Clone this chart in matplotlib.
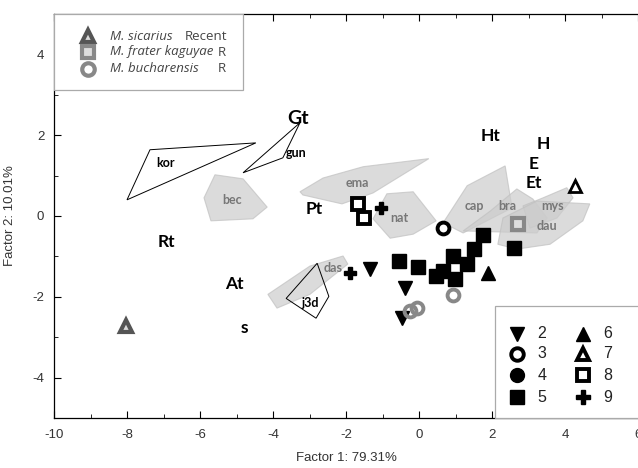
import matplotlib
matplotlib.use("Agg")
import matplotlib.pyplot as plt
from matplotlib.patches import Polygon, Rectangle
from matplotlib.ticker import MultipleLocator

plt.rcParams['font.family'] = ['Liberation Sans', 'DejaVu Sans']
plt.rcParams['axes.unicode_minus'] = False

# ---- data ----
# group 2: filled down-triangles
g2_x = [-1.34, -0.38, -0.47]
g2_y = [-1.32, -1.79, -2.53]
# group 3: open circles
g3_x = [0.66]
g3_y = [-0.30]
# group 5: filled squares
g5_x = [1.75, 1.51, 2.60, 0.93, 1.32, -0.55, -0.03, 0.66, 0.47, 0.99]
g5_y = [-0.47, -0.82, -0.80, -0.99, -1.19, -1.12, -1.27, -1.35, -1.49, -1.55]
# group 6: filled up-triangles
g6_x = [1.89]
g6_y = [-1.42]
# group 7: open up-triangles
g7_x = [4.27]
g7_y = [0.75]
# group 8: open squares
g8_x = [-1.67, -1.51]
g8_y = [0.30, -0.05]
# group 9: plus
g9_x = [-1.04, -1.90]
g9_y = [0.20, -1.42]
# reference species
sic_x, sic_y = [-8.03], [-2.73]
fra_x, fra_y = [2.71], [-0.20]
buc_x = [-0.25, -0.05, 0.93]
buc_y = [-2.36, -2.28, -1.96]

# bold labels
lab_text = ['Gt', 'Ht', 'H', 'E', 'Et', 'Pt', 'Rt', 'At', 's']
lab_x = [-3.32, 1.97, 3.40, 3.15, 3.15, -2.88, -6.93, -5.07, -4.79]
lab_y = [2.41, 1.99, 1.79, 1.29, 0.82, 0.17, -0.65, -1.69, -2.78]

# grey filled polygons
grey_polys = {
    'bec': [(-5.59, 1.02), (-4.82, 0.92), (-4.16, 0.22), (-4.55, -0.07), (-5.70, -0.12), (-5.89, 0.45)],
    'ema': [(-3.26, 0.60), (-2.63, 0.94), (-1.53, 1.22), (0.27, 1.42), (-1.26, 0.57), (-2.11, 0.30), (-3.18, 0.52)],
    'nat': [(-0.88, 0.55), (-0.16, 0.60), (0.47, -0.12), (-0.16, -0.45), (-0.79, -0.55), (-1.26, -0.07)],
    'cap': [(0.66, -0.17), (1.32, 0.75), (2.36, 1.24), (2.55, 0.20), (1.21, -0.42)],
    'bra': [(1.21, -0.37), (1.95, 0.12), (2.68, 0.67), (3.12, 0.42), (3.51, -0.05), (3.23, -0.42)],
    'mys': [(2.85, 0.25), (3.40, 0.45), (4.05, 0.70), (4.22, 0.45), (3.78, -0.05), (3.04, -0.30)],
    'dau': [(2.30, -0.05), (3.23, 0.37), (4.68, 0.30), (4.49, -0.12), (3.59, -0.70), (2.68, -0.82), (2.16, -0.70)],
    'das': [(-4.14, -1.94), (-2.99, -1.24), (-2.08, -0.99), (-1.95, -1.19), (-2.99, -1.94), (-3.89, -2.28)],
}
grey_lab = {
    'bec': (-5.12, 0.40), 'ema': (-1.70, 0.82), 'nat': (-0.55, -0.05), 'cap': (1.53, 0.25),
    'bra': (2.41, 0.25), 'mys': (3.67, 0.25), 'dau': (3.51, -0.25), 'das': (-2.36, -1.29),
}
# outline polygons
line_polys = {
    'kor': [(-7.37, 1.64), (-4.47, 1.81), (-8.00, 0.40)],
    'gun': [(-3.26, 2.31), (-4.82, 1.07), (-3.73, 1.44)],
    'j3d': [(-2.79, -1.17), (-2.47, -1.99), (-2.82, -2.53), (-3.64, -2.04)],
}
line_lab = {'kor': (-6.93, 1.32), 'gun': (-3.38, 1.57), 'j3d': (-2.98, -2.16)}

fig = plt.figure(figsize=(6.38, 4.68), dpi=100)
ax = fig.add_axes([54/638, 50/468, 584/638, 404/468])
ax.set_xlim(-10, 6)
ax.set_ylim(-5, 5)

for name, pts in grey_polys.items():
    ax.add_patch(Polygon(pts, closed=True, facecolor='#cccccc', edgecolor='#c0c0c0',
                         alpha=0.7, lw=0.8, zorder=1))
    lx, ly = grey_lab[name]
    ax.text(lx, ly, name, color='#777777', fontsize=9, fontweight='bold',
            ha='center', va='center', family=['Lato', 'DejaVu Sans'], zorder=2)
for name, pts in line_polys.items():
    ax.add_patch(Polygon(pts, closed=True, facecolor='none', edgecolor='black',
                         lw=0.7, zorder=2))
    lx, ly = line_lab[name]
    ax.text(lx, ly, name, color='black', fontsize=9, fontweight='bold',
            ha='center', va='center', family=['Lato', 'DejaVu Sans'], zorder=3)

for t, x, y in zip(lab_text, lab_x, lab_y):
    fs = 14 if t == 'Gt' else 12.5
    ax.text(x, y, t, fontsize=fs, fontweight='bold', ha='center', va='center',
            family=['Lato', 'DejaVu Sans'], zorder=4)

ms = 9.5
ax.plot(g2_x, g2_y, 'v', color='black', ms=ms, ls='none', zorder=5)
ax.plot(g3_x, g3_y, 'o', mfc='white', mec='black', mew=2.8, ms=8.5, ls='none', zorder=5)
ax.plot(g5_x, g5_y, 's', color='black', ms=ms, ls='none', zorder=5)
ax.plot(g6_x, g6_y, '^', color='black', ms=ms, ls='none', zorder=5)
ax.plot(g7_x, g7_y, '^', mfc='white', mec='black', mew=2.0, ms=9, ls='none', zorder=5)
ax.plot(g8_x, g8_y, 's', mfc='white', mec='black', mew=2.8, ms=8.5, ls='none', zorder=5)
ax.plot(g9_x, g9_y, 'P', color='black', ms=9, ls='none', zorder=5)
ax.plot(sic_x, sic_y, '^', mfc='#dcdcdc', mec='#555555', mew=3.0, ms=9, ls='none', zorder=5)
ax.plot(fra_x, fra_y, 's', mfc='#dddddd', mec='#888888', mew=3.0, ms=9, ls='none', zorder=5)
ax.plot(buc_x, buc_y, 'o', mfc='none', mec='#888888', mew=2.8, ms=8.5, ls='none', zorder=5)

# axes styling
ax.xaxis.set_major_locator(MultipleLocator(2))
ax.xaxis.set_minor_locator(MultipleLocator(1))
ax.yaxis.set_major_locator(MultipleLocator(2))
ax.yaxis.set_minor_locator(MultipleLocator(1))
ax.tick_params(which='both', direction='in', top=True, right=False, labelsize=9.5,
               labelcolor='#333333')
ax.tick_params(which='major', length=5, width=0.8)
ax.tick_params(which='minor', length=3, width=0.6)
ax.tick_params(axis='x', pad=8)
ax.tick_params(axis='y', pad=7)
for s in ax.spines.values():
    s.set_linewidth(0.9)
ax.spines['right'].set_visible(False)
ax.set_xticks([-10, -8, -6, -4, -2, 0, 2, 4, 6])
ax.set_yticks([-4, -2, 0, 2, 4])
fig.canvas.draw()
for tk, v in zip(ax.xaxis.get_major_ticks(), ax.get_xticks()):
    if v == 0:
        tk.tick1line.set_color('#cc0000')
ax.set_xlabel('Factor 1: 79.31%', fontsize=9.5, color='#333333', labelpad=8)
ax.set_ylabel('Factor 2: 10.01%', fontsize=9.5, color='#333333', labelpad=12)

# top-left legend (axes coords)
tr = ax.transAxes
def px2ax(px, py):
    return ((px - 54) / 584, (418 - py) / 404)

x0, y0 = px2ax(54, 90)
x1, y1 = px2ax(243, 14)
ax.add_patch(Rectangle((x0, y0), x1 - x0, y1 - y0, transform=tr, facecolor='white',
                       edgecolor='#aaaaaa', lw=0.9, zorder=6))
leg_rows = [
    ('^', '#dcdcdc', '#555555', 'M. sicarius', 'Recent', 185, 36),
    ('s', '#dddddd', '#888888', 'M. frater kaguyae', 'R', 218, 52),
    ('o', 'white', '#888888', 'M. bucharensis', 'R', 218, 69),
]
for mk, fc, ec, name, per, px_per, py in leg_rows:
    mx, my = px2ax(88, py)
    ax.plot([mx], [my], mk, mfc=fc, mec=ec, mew=3.0, ms=9, transform=tr, zorder=7,
            clip_on=False)
    tx, ty = px2ax(110, py)
    ax.text(tx, ty, name, transform=tr, fontsize=9.5, style='italic', color='#444444',
            va='center', ha='left', family=['Open Sans', 'DejaVu Sans'], zorder=7)
    tx, ty = px2ax(px_per, py)
    ax.text(tx, ty, per, transform=tr, fontsize=9.5, color='#444444',
            va='center', ha='left', family=['Open Sans', 'DejaVu Sans'], zorder=7)

# bottom-right legend
x0, y0 = px2ax(495, 418)
x1, y1 = px2ax(650, 306)
ax.add_patch(Rectangle((x0, y0), x1 - x0, y1 - y0, transform=tr, facecolor='white',
                       edgecolor='#aaaaaa', lw=0.9, zorder=6, clip_on=False))
leg2 = [
    ('v', 'black', 'black', '2', 517, 334), ('o', 'white', 'black', '3', 517, 354),
    ('o', 'black', 'black', '4', 517, 375), ('s', 'black', 'black', '5', 517, 397),
    ('^', 'black', 'black', '6', 583, 334), ('^', 'white', 'black', '7', 583, 354),
    ('s', 'white', 'black', '8', 583, 375), ('P', 'black', 'black', '9', 583, 397),
]
for mk, fc, ec, lab, px, py in leg2:
    mx, my = px2ax(px, py)
    mew = 2.8 if fc == 'white' else 1.0
    ax.plot([mx], [my], mk, mfc=fc, mec=ec, mew=mew, ms=10 if fc != 'white' else 9,
            transform=tr, zorder=7, clip_on=False)
    tx, ty = px2ax(px + 25, py)
    ax.text(tx, ty, lab, transform=tr, fontsize=11.5, color='#222222', va='center',
            ha='center', zorder=7)

fig.savefig('out.png', dpi=100)
